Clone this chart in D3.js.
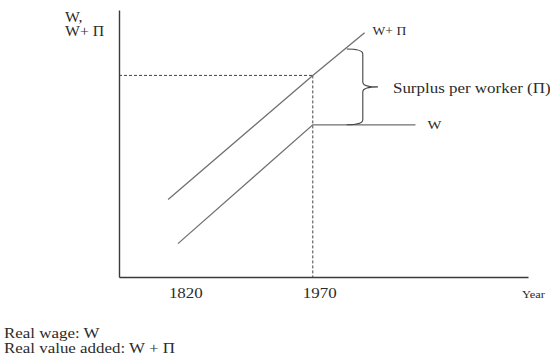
<!DOCTYPE html>
<html>
<head>
<meta charset="utf-8">
<script src="https://cdn.jsdelivr.net/npm/d3@7"></script>
<style>
  html, body { margin: 0; padding: 0; background: #fff; }
  svg { display: block; }
  text { font-family: "Liberation Serif", "Times New Roman", serif; fill: #2b2b2b; }
</style>
</head>
<body>
<svg id="chart" width="550" height="363"></svg>
<script>
// ---- data (schematic values) ----
const xTicks = [1820, 1970];
const xDomain = [1753, 2211];
const yDomain = [0, 100];

const wPlusPiYears = [1808, 1970, 2028];
const wPlusPiValues = [29, 75.5, 91.5];

const wYears = [1819, 1970, 2085];
const wValues = [12.5, 57, 57];

const refYear = 1970;
const refValue = 75.5;

const braceYear = 2026;
const braceArmYear = 2008;
const braceTipYear = 2043;
const braceTop = 85.4;
const braceBottom = 57;

const yAxisLabel = ["W,", "W+ \u03A0"];
const xAxisLabel = "Year";
const wPlusPiLabel = "W+ \u03A0";
const wLabel = "W";
const braceLabel = "Surplus per worker (\u03A0)";
const notes = ["Real wage: W", "Real value added: W + \u03A0"];

// ---- drawing ----
const svg = d3.select("#chart");
const x = d3.scaleLinear().domain(xDomain).range([119, 528]);
const y = d3.scaleLinear().domain(yDomain).range([277, 10]);
const SX = 1.13; // horizontal text stretch of the original scan

function label(txt, px, py, size, anchor, sx) {
  return svg.append("text")
    .attr("transform", `translate(${px},${py}) scale(${sx || SX},1)`)
    .attr("font-size", size)
    .attr("text-anchor", anchor || "start")
    .text(txt);
}

// axes
const xAxis = d3.axisBottom(x).tickValues(xTicks).tickSize(0).tickFormat(d3.format("d"));
const gx = svg.append("g").attr("transform", `translate(0,${y(0)})`).call(xAxis);
gx.select(".domain").attr("stroke", "#3a3a3a").attr("stroke-width", 1.4);
gx.selectAll(".tick text").remove();
xTicks.forEach(v => label(String(v), x(v) + 7, 298, 15, "middle"));

const yAxis = d3.axisLeft(y).tickValues([]).tickSize(0);
const gy = svg.append("g").attr("transform", `translate(${x(xDomain[0])},0)`).call(yAxis);
gy.select(".domain").attr("stroke", "#3a3a3a").attr("stroke-width", 1.4);

// dashed reference lines
svg.append("line")
  .attr("x1", x(xDomain[0])).attr("x2", x(refYear))
  .attr("y1", y(refValue)).attr("y2", y(refValue))
  .attr("stroke", "#444").attr("stroke-width", 1).attr("stroke-dasharray", "3,2");
svg.append("line")
  .attr("x1", x(refYear)).attr("x2", x(refYear))
  .attr("y1", y(refValue)).attr("y2", y(0))
  .attr("stroke", "#444").attr("stroke-width", 1).attr("stroke-dasharray", "3,2");

// series lines
const line = d3.line().x(d => x(d[0])).y(d => y(d[1]));
svg.append("path")
  .datum(d3.zip(wPlusPiYears, wPlusPiValues))
  .attr("d", line).attr("fill", "none").attr("stroke", "#707070").attr("stroke-width", 1.3);
svg.append("path")
  .datum(d3.zip(wYears, wValues))
  .attr("d", line).attr("fill", "none").attr("stroke", "#707070").attr("stroke-width", 1.3);

// brace
const bx = x(braceYear), ba = x(braceArmYear), bt = x(braceTipYear);
const y0 = y(braceTop), y1 = y(braceBottom), ym = (y0 + y1) / 2, r = 5;
const bracePath = `M${ba},${y0} Q${bx},${y0} ${bx},${y0 + r} L${bx},${ym - r} Q${bx},${ym} ${bt},${ym}` +
  ` Q${bx},${ym} ${bx},${ym + r} L${bx},${y1 - r} Q${bx},${y1} ${ba},${y1}`;
svg.append("path").attr("d", bracePath).attr("fill", "none")
  .attr("stroke", "#444").attr("stroke-width", 1.1);

// labels
label(wPlusPiLabel, x(wPlusPiYears[2]) + 8, y(wPlusPiValues[2]) + 2, 12);
label(wLabel, x(wYears[2]) + 12, y(wValues[2]) + 4, 13);
label(braceLabel, bt + 15, ym + 6, 15);
label(yAxisLabel[0], 65, 22, 14);
label(yAxisLabel[1], 65, 36, 14);
label(xAxisLabel, 522, 298, 11);
label(notes[0], 4, 337.5, 14, "start", 1.21);
label(notes[1], 4, 353, 14, "start", 1.21);
</script>
</body>
</html>
